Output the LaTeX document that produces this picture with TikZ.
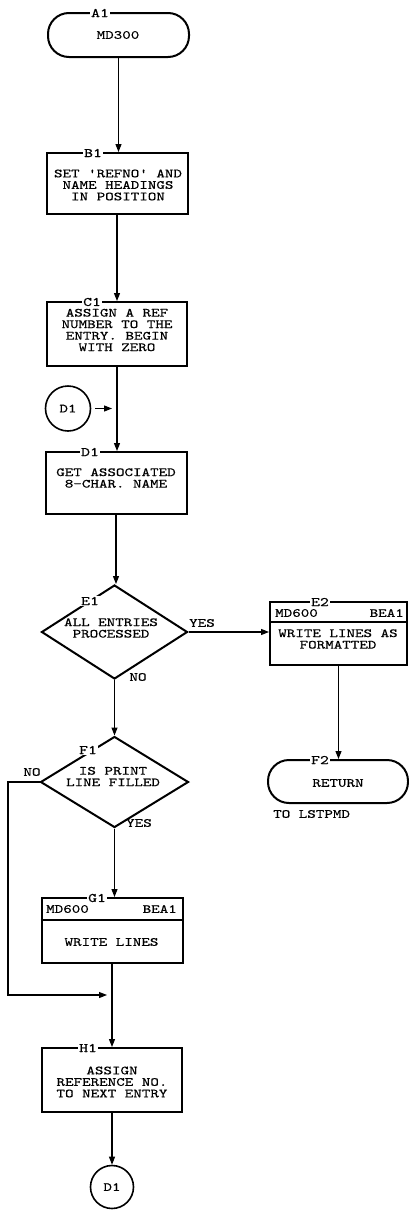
\documentclass[tikz,border=0pt]{standalone}
\usepackage{fontspec}
\newfontfamily\mono[FakeStretch=1.3,FakeBold=0.5]{lmmono10-regular.otf}
\usetikzlibrary{arrows.meta,shapes.geometric}
\begin{document}
\begin{tikzpicture}[x=1pt,y=-1pt,
  txt/.style={font=\mono\fontsize{12.5}{11.5}\selectfont,align=center,inner sep=0pt},
  lbl/.style={font=\mono\fontsize{13}{13}\selectfont,fill=white,inner sep=1pt},
  box/.style={draw,line width=2pt,inner sep=0pt},
  term/.style={draw,line width=2pt,rounded corners=21pt,inner sep=0pt},
  dia/.style={draw,diamond,line width=2pt,inner sep=0pt},
  conn/.style={draw,circle,line width=1.6pt,inner sep=0pt,minimum size=45pt},
  arr/.style={line width=1.1pt,-{Triangle[length=8pt,width=6pt]}},
  ln/.style={line width=1pt}]
\useasboundingbox (0,0) rectangle (409,1210);
\fill[white] (0,0) rectangle (409,1210);

% A1
\node[term,minimum width=141pt,minimum height=44pt] (A1) at (118.5,35) {};
\node[txt] (A1t) at (118,35) {MD300};
\node[lbl] (A1l) at (100,13) {A1};

% B1
\node[box,minimum width=141pt,minimum height=61pt] (B1) at (117,183.5) {};
\node[txt] (B1t) at (118,185) {SET 'REFNO' AND\\NAME HEADINGS\\IN POSITION};
\node[lbl] (B1l) at (93,153) {B1};

% C1
\node[box,minimum width=140pt,minimum height=64pt] (C1) at (117,334) {};
\node[txt] (C1t) at (117,330) {ASSIGN A REF\\NUMBER TO THE\\ENTRY. BEGIN\\WITH ZERO};
\node[lbl] (C1l) at (92,302) {C1};

% D1 connector (entry)
\node[conn] (D1c) at (68,408.5) {};
\node[txt] (D1ct) at (68,408.5) {D1};
\coordinate (D1a) at (112,408.5);

% D1
\node[box,minimum width=141pt,minimum height=62pt] (D1) at (116,483) {};
\node[txt] (D1t) at (116,478) {GET ASSOCIATED\\8-CHAR. NAME};
\node[lbl] (D1l) at (90,452) {D1};

% E1
\node[dia,minimum width=146pt,minimum height=94pt] (E1) at (114.5,632) {};
\node[txt] (E1t) at (111,628) {ALL ENTRIES\\PROCESSED};
\node[lbl] (E1l) at (90,601) {E1};
\node[txt] (E1y) at (202,623) {YES};
\node[txt] (E1n) at (138,677) {NO};

% E2
\node[box,minimum width=137pt,minimum height=63pt] (E2) at (338.5,633.5) {};
\draw[line width=2pt] (E2.west |- 0,622) -- (E2.east |- 0,622);
\node[txt,anchor=west] (E2a) at (275,613) {MD600};
\node[txt,anchor=east] (E2b) at (404,613) {BEA1};
\node[txt] (E2t) at (338,639) {WRITE LINES AS\\FORMATTED};
\node[lbl] (E2l) at (320,602) {E2};

% F1
\node[dia,minimum width=148pt,minimum height=91pt] (F1) at (114.5,782) {};
\node[txt] (F1t) at (113,776.5) {IS PRINT\\LINE FILLED};
\node[lbl] (F1l) at (88,750) {F1};
\node[txt] (F1n) at (32,772) {NO};
\node[txt] (F1y) at (139,823) {YES};
\coordinate (Fc) at (8,995);
\coordinate (Fj) at (107,995);

% F2
\node[term,minimum width=140pt,minimum height=43pt] (F2) at (338,781.5) {};
\node[txt] (F2t) at (338,783) {RETURN};
\node[lbl] (F2l) at (320,760) {F2};
\node[txt,anchor=west] (F2r) at (273,814) {TO LSTPMD};

% G1
\node[box,minimum width=141pt,minimum height=65pt] (G1) at (112,930.5) {};
\draw[line width=2pt] (G1.west |- 0,920) -- (G1.east |- 0,920);
\node[txt,anchor=west] (G1a) at (46,909) {MD600};
\node[txt,anchor=east] (G1b) at (177,909) {BEA1};
\node[txt] (G1t) at (111.5,942) {WRITE LINES};
\node[lbl] (G1l) at (97,898) {G1};

% H1
\node[box,minimum width=140pt,minimum height=64pt] (H1) at (112,1080) {};
\node[txt] (H1t) at (112,1082) {ASSIGN\\REFERENCE NO.\\TO NEXT ENTRY};
\node[lbl] (H1l) at (88,1048) {H1};

% D1 connector (exit)
\node[conn,minimum size=43pt] (D1e) at (112,1187) {};
\node[txt] (D1et) at (112,1187) {D1};

% connectors
\draw[arr] (A1.south) -- (A1.south |- B1.north);
\draw[arr] (B1.south) -- (B1.south |- C1.north);
\draw[arr] (C1.south) -- (C1.south |- D1.north);
\draw[arr] ([xshift=4pt]D1c.east) -- (D1a);
\draw[arr] (D1.south) -- (D1.south |- E1.north);
\draw[arr] (E1.east) -- (E1.east -| E2.west);
\draw[arr] (E1.south) -- (E1.south |- F1.north);
\draw[arr] (E2.south) -- (E2.south |- F2.north);
\draw[arr] (F1.south) -- (F1.south |- G1.north);
\draw[arr] (F1.west) -| (Fc) -- (Fj);
\draw[arr] (G1.south) -- (G1.south |- H1.north);
\draw[arr] (H1.south) -- (H1.south |- D1e.north);
\end{tikzpicture}
\end{document}
